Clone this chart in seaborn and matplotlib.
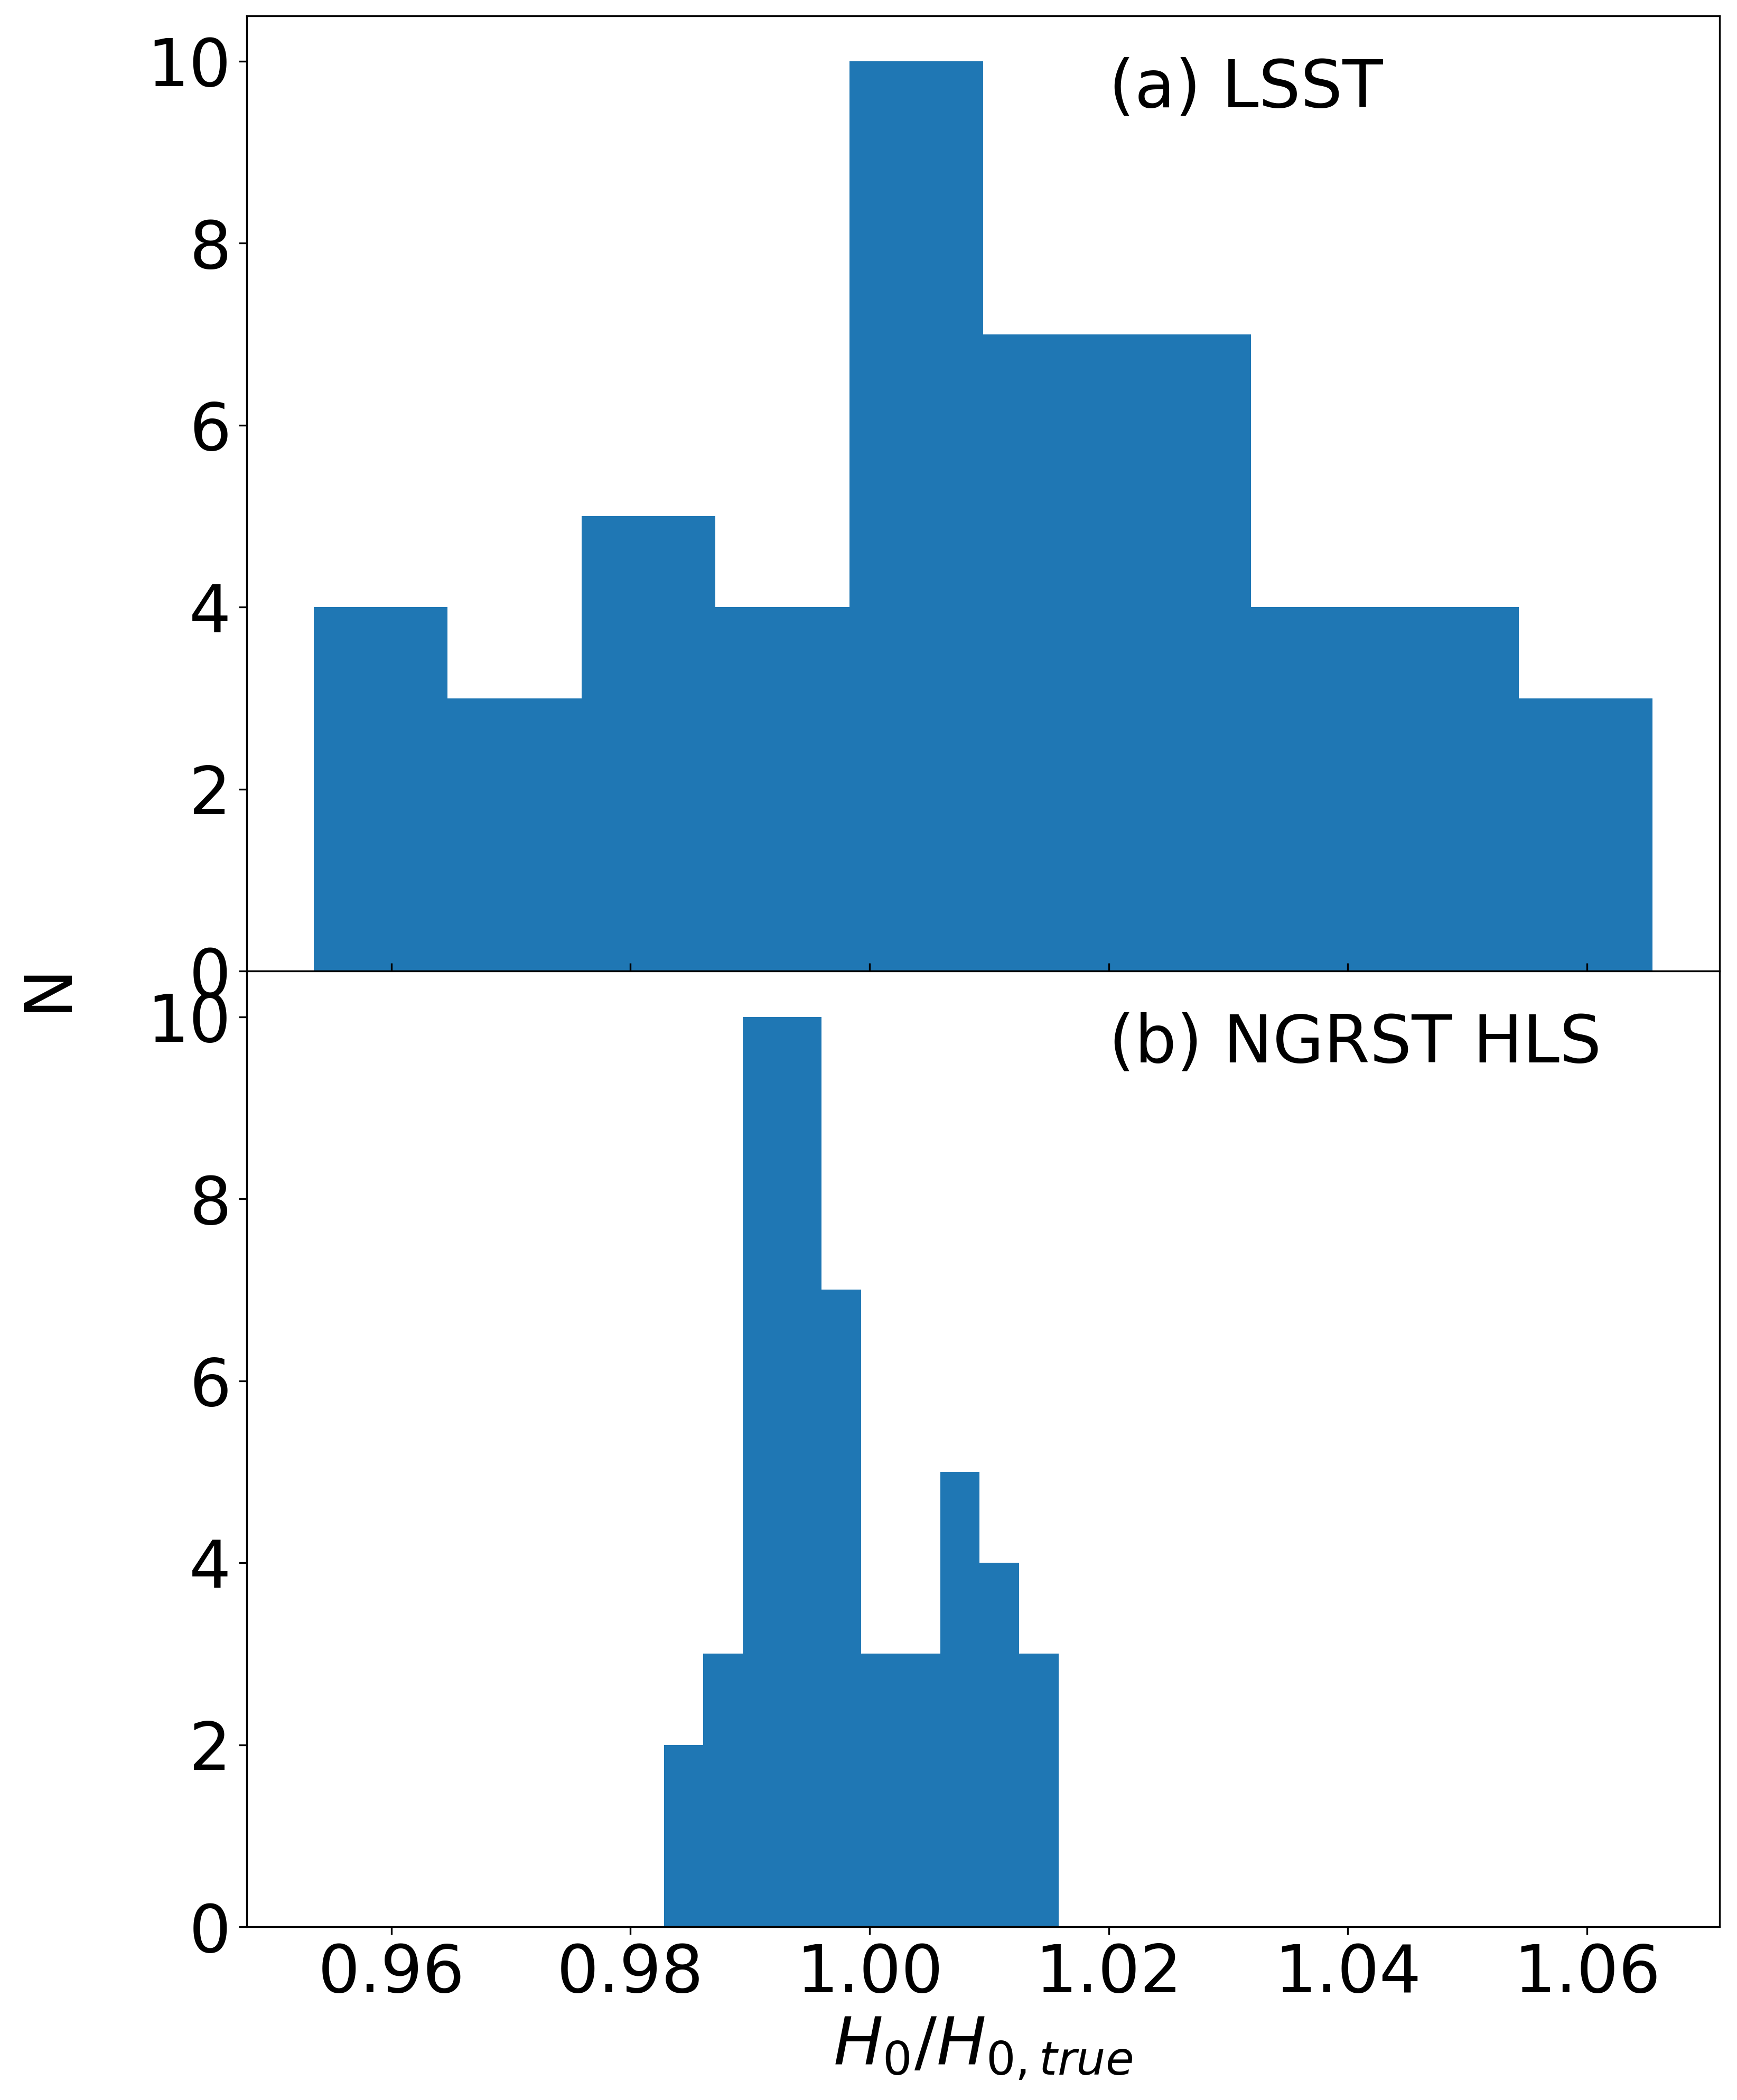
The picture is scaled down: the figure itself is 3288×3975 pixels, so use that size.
import numpy as np
import pandas as pd
import seaborn as sns
import matplotlib
matplotlib.use('Agg')
import matplotlib.pyplot as plt

# histogram bin edges and counts
lsst_edges = [0.9535, 0.9647, 0.9759, 0.9871, 0.9983, 1.0095,
              1.0207, 1.0319, 1.0431, 1.0543, 1.0655]
lsst_counts = [4, 3, 5, 4, 10, 7, 7, 4, 4, 3]

hls_edges = [0.9828, 0.9861, 0.9894, 0.9927, 0.9960, 0.9993,
             1.0026, 1.0059, 1.0092, 1.0125, 1.0158]
hls_counts = [2, 3, 10, 10, 7, 3, 3, 5, 4, 3]

panel_labels = ['(a) LSST', '(b) NGRST HLS']

fig, axes = plt.subplots(2, 1, sharex=True, figsize=(10.96, 13.25), dpi=300)
fig.subplots_adjust(left=0.1420, right=0.990, top=0.9925, bottom=0.0825, hspace=0)

for ax, edges, counts, label in zip(axes, [lsst_edges, hls_edges],
                                    [lsst_counts, hls_counts], panel_labels):
    e = np.array(edges)
    df = pd.DataFrame({'x': 0.5 * (e[:-1] + e[1:]), 'n': counts})
    sns.histplot(data=df, x='x', weights='n', bins=list(edges), ax=ax,
                 color='#1f77b4', alpha=1, linewidth=0, edgecolor='none')
    ax.text(1.02, 9.5, label, fontsize=30)
    ax.set_ylabel('')
    ax.set_xlabel('')
    ax.tick_params(labelsize=30)

axes[0].tick_params(axis='x', direction='in')
axes[1].set_xlabel(r'$H_0/H_{0,true}$', fontsize=30)
fig.text(0.0275, 0.530, 'N', rotation=90, va='center', ha='center', fontsize=30)

fig.savefig('out.png', dpi=300)
